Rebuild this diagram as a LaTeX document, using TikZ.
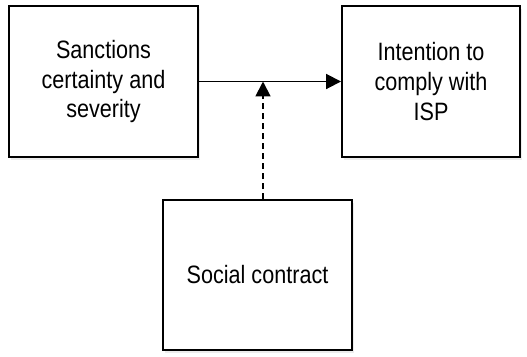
\documentclass[tikz,border=0pt]{standalone}
\usepackage{fontspec}
\setmainfont{Liberation Sans}[FakeStretch=0.86]
\usetikzlibrary{arrows.meta,shadows}

\tikzset{
  factor/.style={draw, line width=1.1pt, fill=white, align=center,
    font=\fontsize{14.3}{16.8}\selectfont, inner sep=0pt,
    drop shadow={opacity=0.15, shadow xshift=1pt, shadow yshift=-1.5pt}},
  link/.style={line width=1.1pt, -{Triangle[length=8.5pt, width=8.5pt]}}
}

\begin{document}
\begin{tikzpicture}[x=0.02cm, y=-0.02cm]
% Fix the page size
\useasboundingbox (0,0) rectangle (527,356);

% Draw the three boxes
\node[factor, minimum width=189*0.02cm, minimum height=151*0.02cm] (sanctions) at (103.5, 81.5) {Sanctions\\certainty and\\severity};
\node[factor, minimum width=178*0.02cm, minimum height=151*0.02cm] (intention) at (431, 81.5) {Intention to\\comply with\\ISP};
\node[factor, minimum width=189*0.02cm, minimum height=150*0.02cm] (social) at (257.5, 275) {Social contract};

% Arrows
\coordinate (meet) at (263, 81.5);
\draw[link] (sanctions.east) -- (intention.west);
\draw[link, dash pattern=on 3.4pt off 2.3pt] (social.north -| meet) -- (meet);
\end{tikzpicture}
\end{document}
